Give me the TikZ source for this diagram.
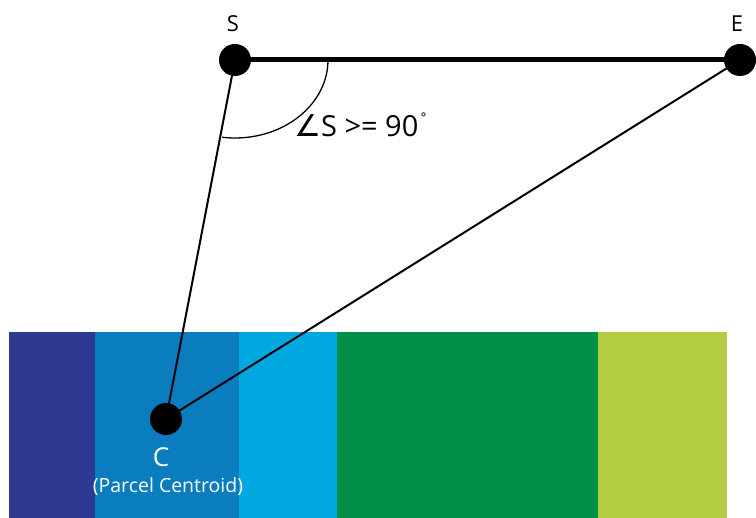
\documentclass[tikz,border=0pt]{standalone}
\usepackage{fontspec}
\setmainfont{Open Sans}
\newfontfamily\symfont{DejaVu Sans}
\definecolor{bandA}{HTML}{2E3A92}
\definecolor{bandB}{HTML}{0A7DBF}
\definecolor{bandC}{HTML}{00A8E0}
\definecolor{bandD}{HTML}{00904A}
\definecolor{bandE}{HTML}{B2CD3F}
\begin{document}
\begin{tikzpicture}[x=1pt,y=-1pt,
  dot/.style={circle,fill=black,minimum size=32pt,inner sep=0pt},
  thinline/.style={line width=2pt},
  lbl/.style={font=\fontsize{22}{26}\selectfont}]
\useasboundingbox (0,0) rectangle (756,518);
\fill[white] (0,0) rectangle (756,518);
% bands
\fill[bandA] (9,332) rectangle (95,518);
\fill[bandB] (95,332) rectangle (239,518);
\fill[bandC] (239,332) rectangle (337,518);
\fill[bandD] (337,332) rectangle (598,518);
\fill[bandE] (598,332) rectangle (727,518);
% nodes
\node[dot] (S) at (235,60) {};
\node[dot] (E) at (740,60) {};
\node[dot] (C) at (166,419) {};
% angle arc
\draw[line width=1.3pt] (328,60) arc[start angle=0,end angle=98,x radius=93,y radius=78];
% connectors
\draw[line width=5pt] (S.center) -- (E.center);
\draw[thinline] (S.center) -- (C.center);
\draw[thinline] (E.center) -- (C.center);
% labels
\node[lbl,anchor=base,inner sep=0pt] (Slbl) at (233,32) {S};
\node[lbl,anchor=base,inner sep=0pt] (Elbl) at (737,32) {E};
\node[anchor=base west,inner sep=0pt,font=\fontsize{29}{32}\selectfont] (ang) at (294,137)
  {{\symfont\fontsize{30}{32}\selectfont ∠}S >= 90\hspace{2pt}\raisebox{0.5em}{\fontsize{13}{13}\selectfont\symfont °}};
\node[text=white,anchor=base,inner sep=0pt,font=\fontsize{26}{28}\selectfont] (Clbl) at (161,467) {C};
\node[text=white,anchor=base,inner sep=0pt,font=\fontsize{19.5}{22}\selectfont] (Pc) at (168,493) {(Parcel Centroid)};
\end{tikzpicture}
\end{document}
